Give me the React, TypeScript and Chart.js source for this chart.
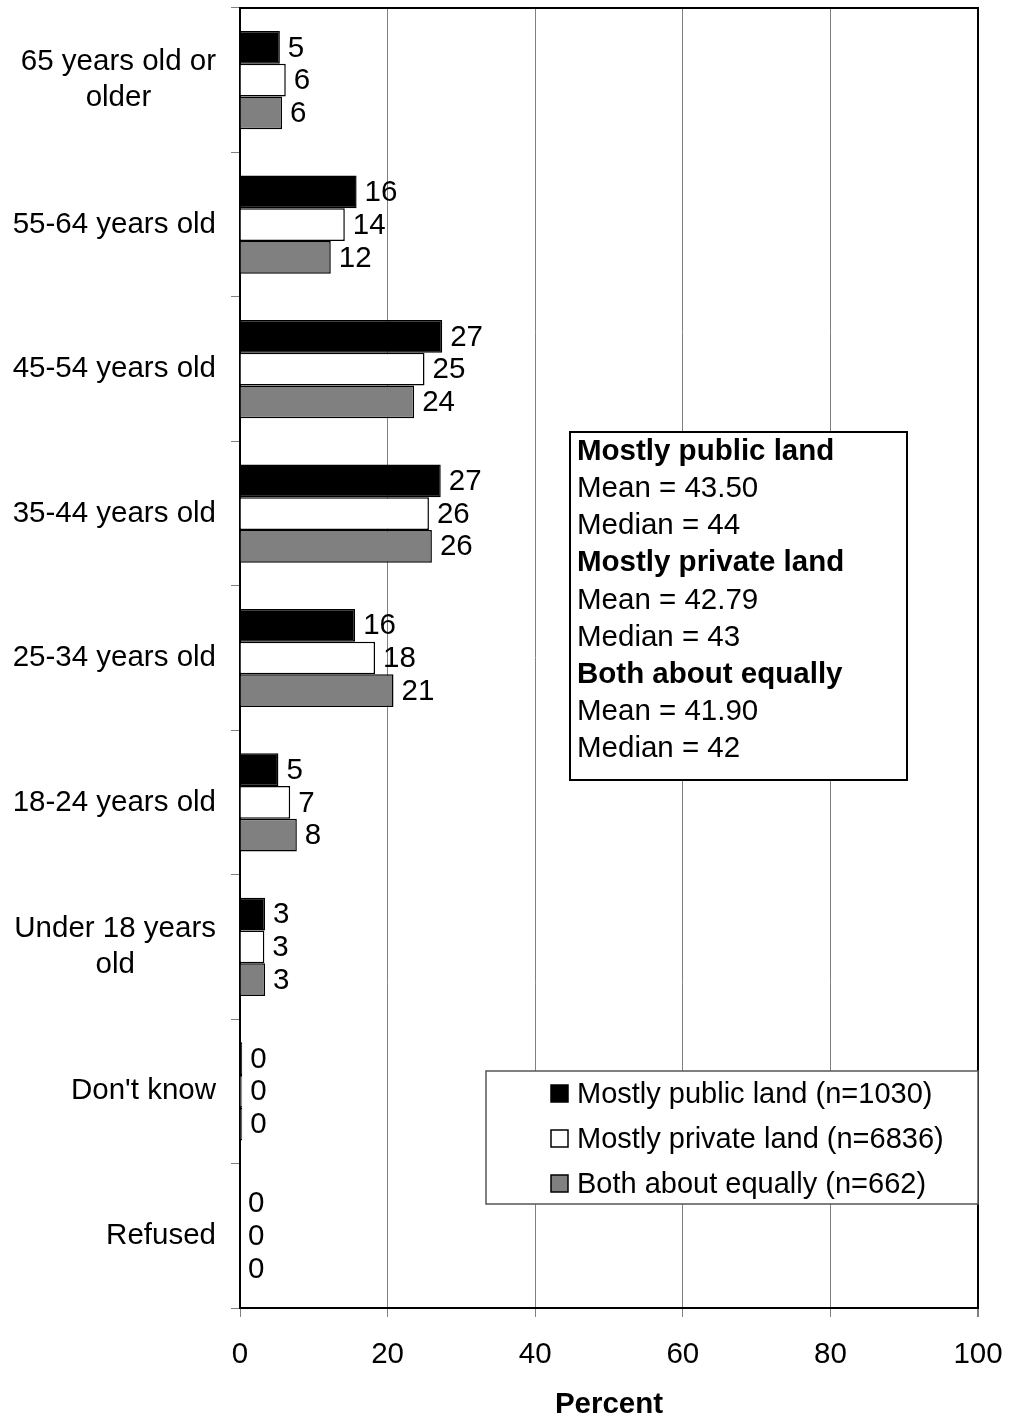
import React, { useEffect, useRef } from "react";
import { Chart, registerables } from "chart.js";

Chart.register(...registerables);

const categories: (string | string[])[] = [
  ["65 years old or", "older"],
  "55-64 years old",
  "45-54 years old",
  "35-44 years old",
  "25-34 years old",
  "18-24 years old",
  ["Under 18 years", "old"],
  "Don't know",
  "Refused",
];

const publicLand = [5.4, 15.8, 27.4, 27.2, 15.6, 5.2, 3.4, 0.3, 0];
const privateLand = [6.2, 14.2, 25.0, 25.6, 18.3, 6.8, 3.3, 0.3, 0];
const bothEqually = [5.7, 12.3, 23.6, 26.0, 20.8, 7.7, 3.4, 0.3, 0];

const seriesNames = [
  "Mostly public land (n=1030)",
  "Mostly private land (n=6836)",
  "Both about equally (n=662)",
];

const xTicks = [0, 20, 40, 60, 80, 100];

const statsLines: { text: string; bold: boolean }[] = [
  { text: "Mostly public land", bold: true },
  { text: "Mean = 43.50", bold: false },
  { text: "Median = 44", bold: false },
  { text: "Mostly private land", bold: true },
  { text: "Mean = 42.79", bold: false },
  { text: "Median = 43", bold: false },
  { text: "Both about equally", bold: true },
  { text: "Mean = 41.90", bold: false },
  { text: "Median = 42", bold: false },
];

const FONT = "'Liberation Sans', Arial, sans-serif";
const FS = 29.5;

const customPlugin = {
  id: "custom",
  afterDraw(chart: any) {
    const ctx = chart.ctx;
    const area = chart.chartArea;
    const yScale = chart.scales.y;
    ctx.save();
    // top border
    ctx.strokeStyle = "#000";
    ctx.lineWidth = 2;
    ctx.beginPath();
    ctx.moveTo(area.left, area.top);
    ctx.lineTo(area.right + 1, area.top);
    ctx.stroke();

    // y category labels
    ctx.fillStyle = "#000";
    ctx.font = `${FS}px ${FONT}`;
    ctx.textBaseline = "middle";
    ctx.textAlign = "center";
    const labels = chart.data.labels;
    labels.forEach((lab: any, i: number) => {
      const lines = Array.isArray(lab) ? lab : [lab];
      const w = Math.max(...lines.map((l: string) => ctx.measureText(l).width));
      const cx = 216 - w / 2;
      const cy = yScale.getPixelForValue(i);
      const lh = 36;
      lines.forEach((l: string, k: number) => {
        ctx.fillText(l, cx, cy + (k - (lines.length - 1) / 2) * lh);
      });
    });

    // data labels
    ctx.textAlign = "left";
    chart.data.datasets.forEach((ds: any, di: number) => {
      const meta = chart.getDatasetMeta(di);
      meta.data.forEach((el: any, i: number) => {
        const v = ds.data[i];
        ctx.fillText(String(Math.round(v)), Math.max(el.x, el.base) + 8, el.y + 1);
      });
    });

    // stats box
    const bx = 570, by = 432, bw = 337, bh = 348;
    ctx.fillStyle = "#fff";
    ctx.fillRect(bx, by, bw, bh);
    ctx.strokeStyle = "#000";
    ctx.lineWidth = 2;
    ctx.strokeRect(bx, by, bw, bh);
    ctx.fillStyle = "#000";
    statsLines.forEach((s, k) => {
      ctx.font = `${s.bold ? "bold " : ""}${FS}px ${FONT}`;
      ctx.fillText(s.text, 577, 452 + k * 37.1);
    });

    // legend box
    const lx = 486, ly = 1071, lw = 492, lh2 = 133;
    ctx.fillStyle = "#fff";
    ctx.fillRect(lx, ly, lw, lh2);
    ctx.strokeStyle = "#555";
    ctx.lineWidth = 1.5;
    ctx.strokeRect(lx, ly, lw, lh2);
    ctx.font = `29px ${FONT}`;
    chart.data.datasets.forEach((ds: any, di: number) => {
      const cy = 1094 + di * 45;
      ctx.fillStyle = ds.backgroundColor;
      ctx.fillRect(551, cy - 9, 17, 17);
      ctx.strokeStyle = "#000";
      ctx.lineWidth = 1.5;
      ctx.strokeRect(551, cy - 9, 17, 17);
      ctx.fillStyle = "#000";
      ctx.fillText(ds.label, 577, cy + 1);
    });
    ctx.restore();
  },
};

export default function App() {
  const ref = useRef<HTMLCanvasElement>(null);
  useEffect(() => {
    const canvas = ref.current!;
    const chart = new Chart(canvas, {
      type: "bar",
      data: {
        labels: categories as any,
        datasets: [
          { label: seriesNames[0], data: publicLand, backgroundColor: "#000000", borderColor: "#000", borderWidth: 1.5 },
          { label: seriesNames[1], data: privateLand, backgroundColor: "#ffffff", borderColor: "#000", borderWidth: 1.5 },
          { label: seriesNames[2], data: bothEqually, backgroundColor: "#808080", borderColor: "#000", borderWidth: 1.5 },
        ],
      },
      options: {
        indexAxis: "y",
        responsive: false,
        animation: false,
        devicePixelRatio: 1,
        layout: { padding: { top: 8, right: 32, left: 0, bottom: 0 } },
        plugins: { legend: { display: false }, tooltip: { enabled: false } },
        datasets: { bar: { categoryPercentage: 0.68, barPercentage: 1 } },
        scales: {
          x: {
            type: "linear",
            min: 0,
            max: 100,
            afterBuildTicks: (s: any) => {
              s.ticks = xTicks.map((v) => ({ value: v }));
            },
            afterFit: (s: any) => {
              s.height = 110;
              s.paddingLeft = 0;
              s.paddingRight = 0;
            },
            grid: {
              color: (c: any) => (c.tick && c.tick.value === 100 ? "#000" : "#808080"),
              tickColor: "#808080",
              lineWidth: (c: any) => (c.tick && c.tick.value === 100 ? 2 : 1),
              tickLength: 9,
              drawTicks: true,
            },
            border: { color: "#000", width: 2 },
            ticks: {
              color: "#000",
              font: { family: FONT, size: FS },
              padding: 20,
              maxRotation: 0,
            },
            title: {
              display: true,
              text: "Percent",
              color: "#000",
              font: { family: FONT, size: FS, weight: "bold" },
              padding: { top: 0, bottom: -5 },
            },
          },
          y: {
            type: "category",
            afterFit: (s: any) => {
              s.width = 240;
            },
            grid: {
              drawOnChartArea: false,
              drawTicks: true,
              tickLength: 9,
              tickColor: "#808080",
              offset: true,
            },
            border: { color: "#000", width: 2 },
            ticks: { display: false },
          },
        },
      },
      plugins: [customPlugin],
    } as any);
    return () => chart.destroy();
  }, []);
  return (
    <div style={{ position: "absolute", left: 0, top: 0, width: 1010, height: 1418, background: "#fff" }}>
      <canvas ref={ref} width={1010} height={1418} style={{ width: 1010, height: 1418, display: "block" }} />
    </div>
  );
}
